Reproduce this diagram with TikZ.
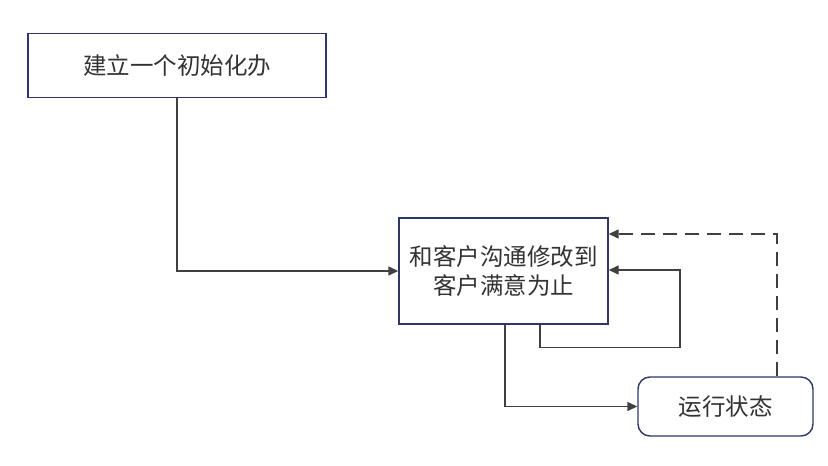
\documentclass[tikz,border=0pt]{standalone}
\usepackage{fontspec}
\setmainfont{Noto Sans CJK SC}
\usepackage{tikz}
\usetikzlibrary{arrows.meta}

\definecolor{boxline}{HTML}{2E3766}
\definecolor{wire}{HTML}{404040}
\definecolor{ink}{HTML}{333333}

\tikzset{
  stepbox/.style={draw=boxline, line width=1.4pt, fill=white, inner sep=0pt,
    align=center, text=ink, font=\fontsize{23.5}{28.5}\selectfont},
  wire/.style={draw=wire, line width=1.4pt, -{Triangle[length=10pt,width=9pt]}}
}

\begin{document}
\begin{tikzpicture}[x=1pt,y=-1pt]
\useasboundingbox (0,0) rectangle (828,466);
\node (0) at (177,65.5) [stepbox, minimum width=298pt, minimum height=64pt] {建立一个初始化办};
\node (1) at (503.5,271) [stepbox, minimum width=209pt, minimum height=106pt] {和客户沟通修改到\\客户满意为止};
\node (2) at (725.5,406.5) [stepbox, rounded corners=12pt, minimum width=175pt, minimum height=59pt] {运行状态};
\draw[wire]
(0.south) |- (1.west);
\draw[wire]
([xshift=36.5pt]1.south) -- ++(0,23) -- ++(140,0) |- ([yshift=1pt]1.east);
\draw[wire]
([xshift=1.5pt]1.south) |- (2.west);
\draw[wire, dash pattern=on 14pt off 8pt]
([xshift=51.5pt]2.north) |- ([yshift=37pt]1.east);
\end{tikzpicture}
\end{document}
